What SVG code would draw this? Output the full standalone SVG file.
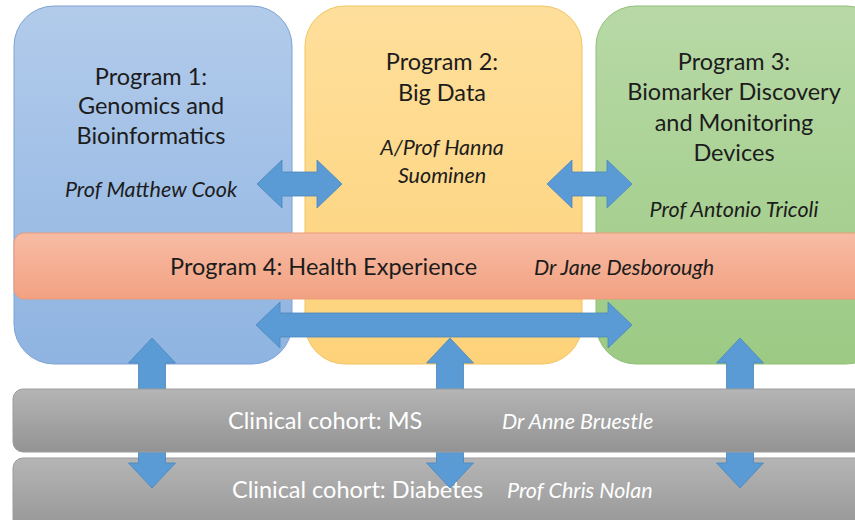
<svg xmlns="http://www.w3.org/2000/svg" width="855" height="520" viewBox="0 0 855 520">
<defs>
<linearGradient id="gBlue" x1="0" y1="0" x2="0" y2="1"><stop offset="0" stop-color="#b2cbeb"/><stop offset="1" stop-color="#8fb4e1"/></linearGradient>
<linearGradient id="gYellow" x1="0" y1="0" x2="0" y2="1"><stop offset="0" stop-color="#fedf9b"/><stop offset="1" stop-color="#fdd27a"/></linearGradient>
<linearGradient id="gGreen" x1="0" y1="0" x2="0" y2="1"><stop offset="0" stop-color="#b8d9a6"/><stop offset="1" stop-color="#9cca84"/></linearGradient>
<linearGradient id="gSalmon" x1="0" y1="0" x2="0" y2="1"><stop offset="0" stop-color="#f7bca4"/><stop offset="1" stop-color="#f2a182"/></linearGradient>
<linearGradient id="gGray" x1="0" y1="0" x2="0" y2="1"><stop offset="0" stop-color="#b5b5b5"/><stop offset="1" stop-color="#939393"/></linearGradient>
<style>
.t{font-family:"Lato","Liberation Sans",sans-serif;font-size:23.5px;fill:#1c1c1c;text-anchor:middle}
.i{font-family:"Lato","Liberation Sans",sans-serif;font-size:21.5px;font-style:italic;fill:#1c1c1c;text-anchor:middle}
.w{fill:#ffffff;text-anchor:start}
.s{text-anchor:start}
.arrow{fill:#5b9bd5;stroke:#4a86bd;stroke-width:0.8}
</style>
</defs>

<g id="program1">
<rect x="14" y="6" width="278" height="358" rx="40" fill="url(#gBlue)" stroke="#7ea3d3" stroke-width="1"/>
<text class="t" x="151" y="85">Program 1:</text>
<text class="t" x="151" y="114">Genomics and</text>
<text class="t" x="151" y="144">Bioinformatics</text>
<text class="i" x="151" y="197">Prof Matthew Cook</text>
</g>

<g id="program2">
<rect x="305" y="6" width="277" height="358" rx="40" fill="url(#gYellow)" stroke="#f2c463" stroke-width="1"/>
<text class="t" x="442" y="70">Program 2:</text>
<text class="t" x="442" y="101">Big Data</text>
<text class="i" x="442" y="155">A/Prof Hanna</text>
<text class="i" x="442" y="183">Suominen</text>
</g>

<g id="program3">
<rect x="596" y="6" width="290" height="358" rx="40" fill="url(#gGreen)" stroke="#8fc076" stroke-width="1"/>
<text class="t" x="734" y="70">Program 3:</text>
<text class="t" x="734" y="100">Biomarker Discovery</text>
<text class="t" x="734" y="131">and Monitoring</text>
<text class="t" x="734" y="161">Devices</text>
<text class="i" x="734" y="217">Prof Antonio Tricoli</text>
</g>

<g id="program4">
<rect x="14" y="233" width="870" height="66" rx="10" fill="url(#gSalmon)" stroke="#ec9a78" stroke-width="1"/>
<text class="t s" x="170" y="275">Program 4: Health Experience</text>
<text class="i s" x="534" y="275">Dr Jane Desborough</text>
</g>

<g id="cohort-diabetes">
<rect x="13" y="458" width="872" height="80" rx="10" fill="url(#gGray)" stroke="#9c9c9c" stroke-width="1"/>
<text class="t w" x="232" y="498">Clinical cohort: Diabetes</text>
<text class="i w" x="507" y="498">Prof Chris Nolan</text>
</g>

<g id="connectors">
<path class="arrow" d="M257,184 L282,160 L282,172 L317,172 L317,160 L342,184 L317,208 L317,196 L282,196 L282,208 Z"/>
<path class="arrow" d="M547,184 L572,160 L572,172 L607,172 L607,160 L632,184 L607,208 L607,196 L572,196 L572,208 Z"/>
<path class="arrow" d="M256,325 L280,302 L280,313 L608,313 L608,302 L632,325 L608,348 L608,337 L280,337 L280,348 Z"/>
<path class="arrow" d="M152,338 L175.5,363 L165.5,363 L165.5,463 L175.5,463 L152,488 L128.5,463 L138.5,463 L138.5,363 L128.5,363 Z"/>
<path class="arrow" d="M450,338 L473.5,363 L463.5,363 L463.5,463 L473.5,463 L450,488 L426.5,463 L436.5,463 L436.5,363 L426.5,363 Z"/>
<path class="arrow" d="M740,338 L763.5,363 L753.5,363 L753.5,463 L763.5,463 L740,488 L716.5,463 L726.5,463 L726.5,363 L716.5,363 Z"/>
</g>

<g id="cohort-ms">
<rect x="13" y="389" width="872" height="63" rx="10" fill="url(#gGray)" stroke="#9c9c9c" stroke-width="1"/>
<text class="t w" x="228" y="429">Clinical cohort: MS</text>
<text class="i w" x="502" y="429">Dr Anne Bruestle</text>
</g>
</svg>
